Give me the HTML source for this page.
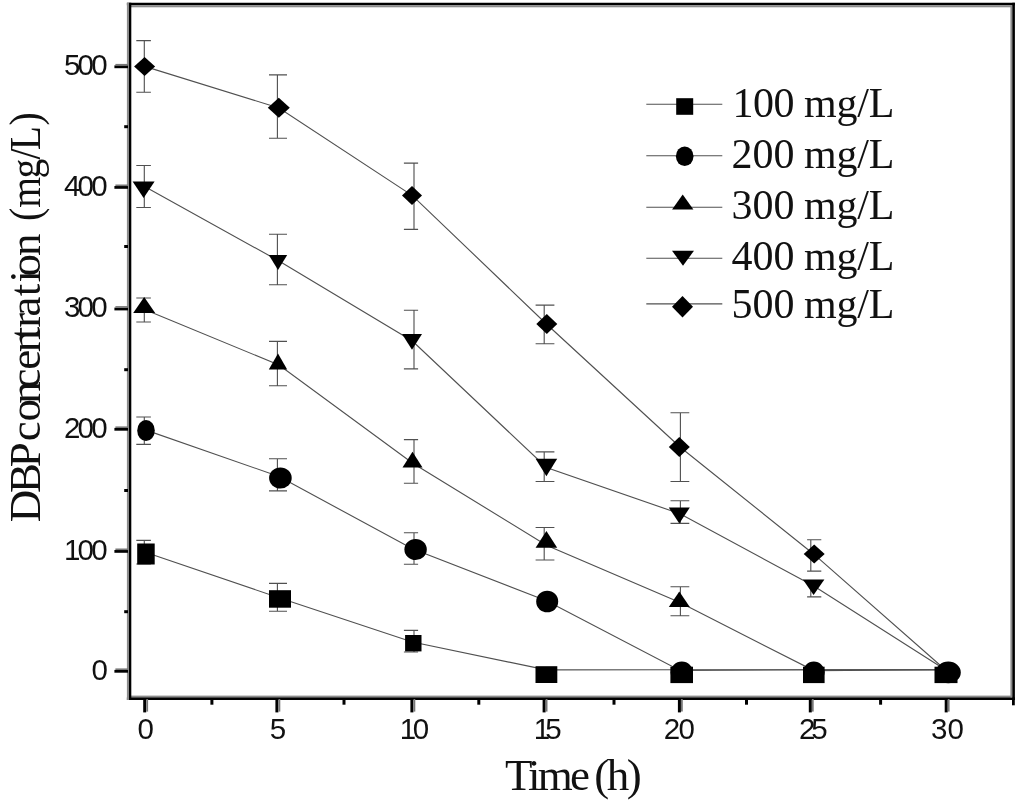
<!DOCTYPE html>
<html lang="en"><head><meta charset="utf-8"><title>DBP concentration vs Time</title>
<style>html,body{margin:0;padding:0;background:#fff}body{width:1024px;height:803px;overflow:hidden}svg{display:block}</style>
</head><body>
<svg width="1024" height="803" viewBox="0 0 1024 803">
<rect x="0" y="0" width="1024" height="803" fill="#fff"/>
<g fill="none" stroke="#505050" stroke-width="1.12">
<polyline points="144.6,552.0 279.0,597.8 412.4,642.0 546.4,669.9 680.0,669.8 813.8,669.8 947.3,669.8"/>
<polyline points="144.6,429.6 279.0,476.5 412.4,548.8 546.4,600.8 680.0,670.4 813.8,669.8 947.3,669.8"/>
<polyline points="144.6,309.4 279.0,365.0 412.4,463.0 546.4,545.2 680.0,602.6 813.8,670.6 947.3,669.8"/>
<polyline points="144.6,186.6 279.0,261.0 412.4,341.0 546.4,467.5 680.0,513.8 813.8,586.0 947.3,671.0"/>
<polyline points="144.6,66.4 279.0,108.0 412.4,195.6 546.4,324.0 680.0,447.0 813.8,554.2 947.3,671.5"/>
<path d="M144.3,540.4V564.0M136.3,540.4H150.9M136.3,564.0H150.9"/>
<path d="M277.4,583.4V611.3M269.0,583.4H287.0M269.0,611.3H287.0"/>
<path d="M414.0,630.4V652.0M403.9,630.4H418.1M403.9,652.0H418.1"/>
<path d="M144.3,417.0V444.4M136.3,417.0H150.9M136.3,444.4H150.9"/>
<path d="M277.4,458.8V490.9M269.0,458.8H287.0M269.0,490.9H287.0"/>
<path d="M414.0,532.8V564.2M403.9,532.8H418.1M403.9,564.2H418.1"/>
<path d="M144.3,298.0V322.0M136.3,298.0H150.9M136.3,322.0H150.9"/>
<path d="M277.4,341.4V385.8M269.0,341.4H287.0M269.0,385.8H287.0"/>
<path d="M414.0,439.6V483.2M403.9,439.6H418.1M403.9,483.2H418.1"/>
<path d="M544.2,527.5V560.0M535.6,527.5H554.4M535.6,560.0H554.4"/>
<path d="M680.4,586.8V615.8M670.5,586.8H689.3M670.5,615.8H689.3"/>
<path d="M144.3,165.5V207.5M136.3,165.5H150.9M136.3,207.5H150.9"/>
<path d="M277.4,234.2V284.8M269.0,234.2H287.0M269.0,284.8H287.0"/>
<path d="M414.0,310.3V368.9M403.9,310.3H418.1M403.9,368.9H418.1"/>
<path d="M544.2,451.9V481.5M535.6,451.9H554.4M535.6,481.5H554.4"/>
<path d="M680.4,500.7V523.4M670.5,500.7H689.3M670.5,523.4H689.3"/>
<path d="M810.8,581.0V596.9M807.1,581.0H821.3M807.1,596.9H821.3"/>
<path d="M144.3,40.6V92.3M136.3,40.6H150.9M136.3,92.3H150.9"/>
<path d="M277.4,74.9V138.2M269.0,74.9H287.0M269.0,138.2H287.0"/>
<path d="M414.0,163.1V229.4M403.9,163.1H418.1M403.9,229.4H418.1"/>
<path d="M544.2,305.1V343.8M535.6,305.1H554.4M535.6,343.8H554.4"/>
<path d="M680.4,412.8V481.5M670.5,412.8H689.3M670.5,481.5H689.3"/>
<path d="M810.8,539.8V571.1M807.1,539.8H821.3M807.1,571.1H821.3"/>
</g>
<polygon points="144.6,57.0 155.1,66.5 144.6,76.0 134.1,66.5" fill="#000"/>
<polygon points="278.8,97.8 289.8,107.8 278.8,117.8 267.8,107.8" fill="#000"/>
<polygon points="412.0,185.9 422.0,195.4 412.0,204.9 402.0,195.4" fill="#000"/>
<polygon points="546.8,314.0 557.3,324.0 546.8,334.0 536.3,324.0" fill="#000"/>
<polygon points="679.3,437.0 689.8,447.0 679.3,457.0 668.8,447.0" fill="#000"/>
<polygon points="814.2,544.5 824.7,554.0 814.2,563.5 803.7,554.0" fill="#000"/>
<polygon points="132.6,181.6 154.6,181.6 143.6,198.1" fill="#000"/>
<polygon points="268.8,254.9 287.2,254.9 278.0,269.9" fill="#000"/>
<polygon points="402.0,333.9 422.0,333.9 412.0,349.7" fill="#000"/>
<polygon points="535.6,458.8 557.2,458.8 546.4,476.2" fill="#000"/>
<polygon points="668.8,507.6 689.8,507.6 679.3,523.4" fill="#000"/>
<polygon points="802.9,579.5 824.4,579.5 813.6,594.9" fill="#000"/>
<polygon points="144.2,297.0 155.2,313.0 133.2,313.0" fill="#000"/>
<polygon points="278.0,353.4 287.2,369.6 268.8,369.6" fill="#000"/>
<polygon points="412.5,451.8 422.5,467.6 402.5,467.6" fill="#000"/>
<polygon points="546.4,531.0 557.2,547.8 535.6,547.8" fill="#000"/>
<polygon points="679.3,591.4 689.8,607.0 668.8,607.0" fill="#000"/>
<rect x="137.2" y="543.5" width="17.5" height="21.0" fill="#000"/>
<rect x="269.0" y="590.2" width="22.0" height="17.5" fill="#000"/>
<rect x="405.1" y="635.0" width="16.4" height="16.4" fill="#000"/>
<rect x="535.5" y="666.2" width="21.8" height="16.8" fill="#000"/>
<rect x="670.4" y="666.7" width="22.6" height="16.4" fill="#000"/>
<rect x="803.0" y="666.7" width="21.6" height="16.4" fill="#000"/>
<rect x="934.5" y="666.7" width="23.0" height="16.4" fill="#000"/>
<ellipse cx="146.0" cy="430.5" rx="8.8" ry="10.5" fill="#000"/>
<ellipse cx="280.4" cy="478.0" rx="11.3" ry="10.5" fill="#000"/>
<ellipse cx="415.6" cy="549.5" rx="11.2" ry="10.5" fill="#000"/>
<ellipse cx="547.2" cy="601.5" rx="11.0" ry="10.8" fill="#000"/>
<ellipse cx="681.8" cy="672.3" rx="11.2" ry="10.7" fill="#000"/>
<ellipse cx="813.8" cy="672.3" rx="10.8" ry="10.7" fill="#000"/>
<ellipse cx="948.3" cy="672.4" rx="12.5" ry="10.8" fill="#000"/>
<rect x="126.9" y="2.75" width="888.0" height="2.55" fill="#000"/>
<rect x="129" y="5.3" width="883.3" height="2.0" fill="#8c8c8c"/>
<rect x="129" y="695.6" width="883.3" height="1.9" fill="#8c8c8c"/>
<rect x="126.9" y="697.4" width="888.0" height="2.6" fill="#000"/>
<rect x="126.9" y="2.75" width="2.1" height="697.25" fill="#8c8c8c"/>
<rect x="129" y="2.75" width="2.3" height="697.25" fill="#000"/>
<rect x="1010.4" y="5.3" width="1.9" height="692.10" fill="#8c8c8c"/>
<rect x="1012.3" y="2.75" width="2.6" height="697.25" fill="#000"/>
<g stroke="#000" fill="none">
<line x1="114.4" y1="671.3" x2="128" y2="671.3" stroke-width="2.8"/>
<line x1="115.4" y1="669.2" x2="128" y2="669.2" stroke-width="1.6" stroke="#777"/>
<line x1="114.4" y1="551.4" x2="128" y2="551.4" stroke-width="2.8"/>
<line x1="115.4" y1="549.3" x2="128" y2="549.3" stroke-width="1.6" stroke="#777"/>
<line x1="114.4" y1="429.3" x2="128" y2="429.3" stroke-width="2.8"/>
<line x1="115.4" y1="427.2" x2="128" y2="427.2" stroke-width="1.6" stroke="#777"/>
<line x1="114.4" y1="309.0" x2="128" y2="309.0" stroke-width="2.8"/>
<line x1="115.4" y1="306.9" x2="128" y2="306.9" stroke-width="1.6" stroke="#777"/>
<line x1="114.4" y1="187.4" x2="128" y2="187.4" stroke-width="2.8"/>
<line x1="115.4" y1="185.3" x2="128" y2="185.3" stroke-width="1.6" stroke="#777"/>
<line x1="114.4" y1="66.8" x2="128" y2="66.8" stroke-width="2.8"/>
<line x1="115.4" y1="64.7" x2="128" y2="64.7" stroke-width="1.6" stroke="#777"/>
<line x1="124.2" y1="611.7" x2="128" y2="611.7" stroke-width="3"/>
<line x1="124.2" y1="490.5" x2="128" y2="490.5" stroke-width="3"/>
<line x1="124.2" y1="369.7" x2="128" y2="369.7" stroke-width="3"/>
<line x1="124.2" y1="246.5" x2="128" y2="246.5" stroke-width="3"/>
<line x1="124.2" y1="126.7" x2="128" y2="126.7" stroke-width="3"/>
<line x1="144.7" y1="699" x2="144.7" y2="712.4" stroke-width="3.0"/>
<line x1="147.2" y1="699" x2="147.2" y2="711.6" stroke-width="1.8" stroke="#777"/>
<line x1="276.9" y1="699" x2="276.9" y2="712.4" stroke-width="3.0"/>
<line x1="279.4" y1="699" x2="279.4" y2="711.6" stroke-width="1.8" stroke="#777"/>
<line x1="411.9" y1="699" x2="411.9" y2="712.4" stroke-width="3.0"/>
<line x1="414.4" y1="699" x2="414.4" y2="711.6" stroke-width="1.8" stroke="#777"/>
<line x1="544.1" y1="699" x2="544.1" y2="712.4" stroke-width="3.0"/>
<line x1="546.6" y1="699" x2="546.6" y2="711.6" stroke-width="1.8" stroke="#777"/>
<line x1="679.4" y1="699" x2="679.4" y2="712.4" stroke-width="3.0"/>
<line x1="681.9" y1="699" x2="681.9" y2="711.6" stroke-width="1.8" stroke="#777"/>
<line x1="810.3" y1="699" x2="810.3" y2="712.4" stroke-width="3.0"/>
<line x1="812.8" y1="699" x2="812.8" y2="711.6" stroke-width="1.8" stroke="#777"/>
<line x1="946.2" y1="699" x2="946.2" y2="712.4" stroke-width="3.0"/>
<line x1="948.7" y1="699" x2="948.7" y2="711.6" stroke-width="1.8" stroke="#777"/>
<line x1="211.9" y1="699" x2="211.9" y2="704.7" stroke-width="3"/>
<line x1="344.0" y1="699" x2="344.0" y2="704.7" stroke-width="3"/>
<line x1="478.8" y1="699" x2="478.8" y2="704.7" stroke-width="3"/>
<line x1="614.0" y1="699" x2="614.0" y2="704.7" stroke-width="3"/>
<line x1="746.5" y1="699" x2="746.5" y2="704.7" stroke-width="3"/>
<line x1="880.6" y1="699" x2="880.6" y2="704.7" stroke-width="3"/>
<line x1="1013.4" y1="699" x2="1013.4" y2="705.3" stroke-width="2.8"/>
</g>
<g font-family="'Liberation Sans', Arial, sans-serif" font-size="29.5" fill="#111">
<text x="108" y="679.7" text-anchor="end">0</text>
<text x="107.6" y="559.8" text-anchor="end" textLength="43.6" lengthAdjust="spacing">100</text>
<text x="107.6" y="437.7" text-anchor="end" textLength="43.6" lengthAdjust="spacing">200</text>
<text x="107.6" y="317.4" text-anchor="end" textLength="43.6" lengthAdjust="spacing">300</text>
<text x="107.6" y="195.8" text-anchor="end" textLength="43.6" lengthAdjust="spacing">400</text>
<text x="107.6" y="75.2" text-anchor="end" textLength="43.6" lengthAdjust="spacing">500</text>
<text x="145.6" y="738.8" text-anchor="middle">0</text>
<text x="278.0" y="738.8" text-anchor="middle">5</text>
<text x="414.4" y="738.8" text-anchor="middle" textLength="29.5" lengthAdjust="spacing">10</text>
<text x="547.7" y="738.8" text-anchor="middle" textLength="28.0" lengthAdjust="spacing">15</text>
<text x="679.4" y="738.8" text-anchor="middle" textLength="31.2" lengthAdjust="spacing">20</text>
<text x="813.4" y="738.8" text-anchor="middle" textLength="28.6" lengthAdjust="spacing">25</text>
<text x="947.4" y="738.8" text-anchor="middle" textLength="32.8" lengthAdjust="spacing">30</text>
</g>
<g font-family="'Liberation Serif', 'Times New Roman', serif" font-size="45" fill="#111">
<g transform="translate(40,522.3) rotate(-90) scale(1.0,1)">
<text x="0.0 29.3 55.0" y="0">DBP</text>
<text x="81.0 100.9 118.5 133.9 152.5 170.0 183.0 194.5 205.7 226.0 239.9 245.7 266.3" y="0">concentration</text>
</g>
<g transform="translate(40,522.3) rotate(-90) scale(0.88,1)">
<text x="342.4 357.6 390.6 412.4 422.8 450.8" y="0">(mg/L)</text>
</g>
<text x="505.0" y="789.8" textLength="85" lengthAdjust="spacing">Time</text>
<text x="594.2" y="789.8" textLength="47.5" lengthAdjust="spacing">(h)</text>
</g>
<g stroke="#505050" stroke-width="1.12">
<line x1="646.3" y1="104.3" x2="722.3" y2="104.3"/>
<line x1="646.3" y1="155.7" x2="722.3" y2="155.7"/>
<line x1="646.3" y1="207.2" x2="722.3" y2="207.2"/>
<line x1="646.3" y1="258.3" x2="722.3" y2="258.3"/>
<line x1="646.3" y1="303.9" x2="722.3" y2="303.9"/>
</g>
<rect x="676.2" y="98.2" width="17.0" height="16.6" fill="#000"/>
<ellipse cx="684.7" cy="156.3" rx="8.8" ry="9.8" fill="#000"/>
<polygon points="682.7,194.5 693.4,209.5 672.1,209.5" fill="#000"/>
<polygon points="672.0,250.7 694.0,250.7 683.0,265.7" fill="#000"/>
<polygon points="682.5,296.0 693.0,306.8 682.5,317.6 672.0,306.8" fill="#000"/>
<g font-family="'Liberation Serif', 'Times New Roman', serif" font-size="42" fill="#111">
<text x="732.5" y="116.7" textLength="62.0" lengthAdjust="spacing">100</text>
<text x="804" y="116.7" textLength="90.5" lengthAdjust="spacing">mg/L</text>
<text x="731.5" y="168.1" textLength="63.0" lengthAdjust="spacing">200</text>
<text x="804" y="168.1" textLength="90.5" lengthAdjust="spacing">mg/L</text>
<text x="731.5" y="218.7" textLength="63.0" lengthAdjust="spacing">300</text>
<text x="804" y="218.7" textLength="90.5" lengthAdjust="spacing">mg/L</text>
<text x="731.5" y="270.2" textLength="63.0" lengthAdjust="spacing">400</text>
<text x="804" y="270.2" textLength="90.5" lengthAdjust="spacing">mg/L</text>
<text x="731.5" y="317.6" textLength="63.0" lengthAdjust="spacing">500</text>
<text x="804" y="317.6" textLength="90.5" lengthAdjust="spacing">mg/L</text>
</g>
</svg>
</body></html>
